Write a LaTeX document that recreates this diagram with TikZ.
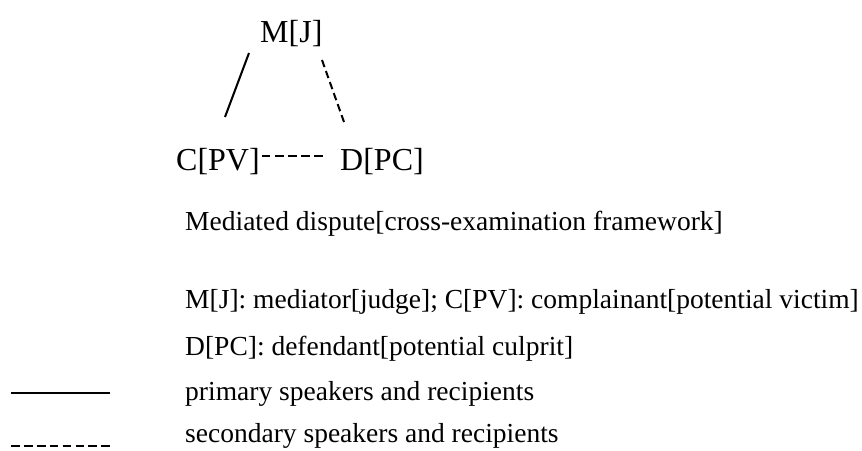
\documentclass[tikz,border=0pt]{standalone}
\usepackage{fontspec}
\setmainfont{Liberation Serif}
\begin{document}
\begin{tikzpicture}[x=1pt,y=-1pt,
  big/.style={inner sep=0pt, anchor=base west, font=\fontsize{32}{38}\selectfont},
  txt/.style={inner sep=0pt, anchor=base west, font=\fontsize{27.5}{33}\selectfont},
  link/.style={line width=2pt},
  dlink/.style={line width=2pt, dash pattern=on 7.5pt off 4.2pt},
  cdash/.style={line width=1.6pt, dash pattern=on 8.5pt off 4.6pt},
  legdash/.style={line width=2pt, dash pattern=on 8.7pt off 4.2pt},
]
\useasboundingbox (0,0) rectangle (862,450);
% diagram nodes
\node[big] (M) at (260,42) {M[J]};
\node[big] (C) at (176,170) {C[PV]};
\node[big] (D) at (340,170) {D[PC]};
% connectors
\coordinate (mc1) at (249,53);
\coordinate (mc2) at (225,117);
\coordinate (md1) at (322,60);
\coordinate (md2) at (344,122);
\draw[link] (mc1) -- (mc2);
\draw[dlink] (md1) -- (md2);
\draw[cdash] ([shift={(2,-14)}]C.base east) -- ([shift={(-17,-14)}]D.base west);
% texts
\node[txt] (cap) at (185,230) {Mediated dispute[cross-examination framework]};
\node[txt] (k1) at (185,308) {M[J]: mediator[judge]; C[PV]: complainant[potential victim]};
\node[txt] (k2) at (185,355) {D[PC]: defendant[potential culprit]};
\node[txt] (l1) at (185,400) {primary speakers and recipients};
\node[txt] (l2) at (185,442) {secondary speakers and recipients};
% legend samples
\coordinate (s1) at (11,393);
\coordinate (s2) at (110,393);
\coordinate (d1) at (11,446);
\coordinate (d2) at (110,446);
\draw[link] (s1) -- (s2);
\draw[legdash] (d1) -- (d2);
\end{tikzpicture}
\end{document}
